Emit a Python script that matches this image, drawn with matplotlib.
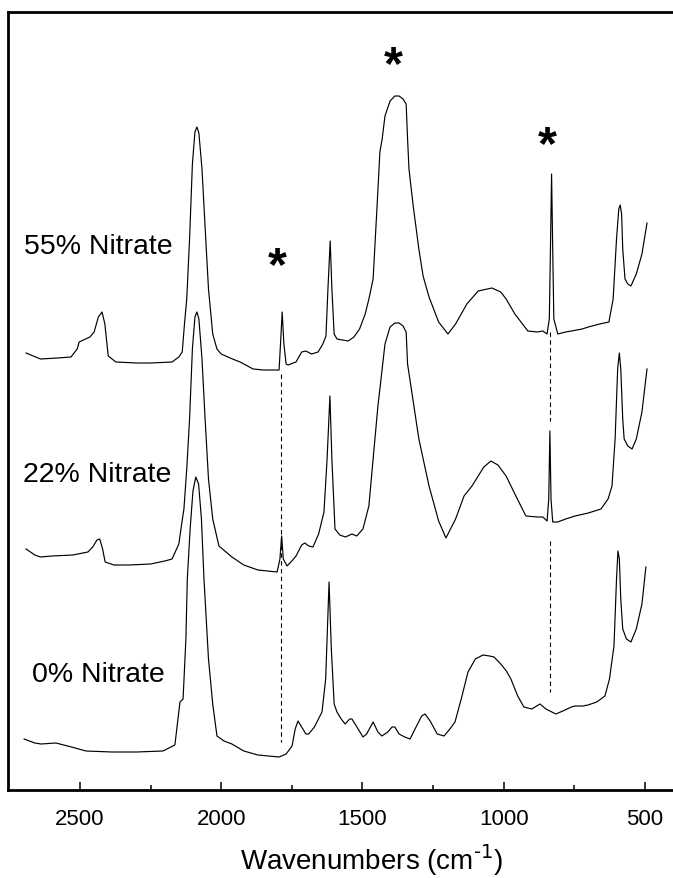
import numpy as np
import matplotlib.pyplot as plt

plt.rcParams['font.family'] = ['Liberation Sans', 'DejaVu Sans']

# spectra: wavenumber (cm-1) and stacked trace level
# (arbitrary units, larger = lower on the page, y axis is inverted)
wn_55 = [2691, 2640, 2580, 2532, 2510, 2503, 2480, 2465, 2450, 2435, 2422, 2412, 2400, 2373, 2300,
         2250, 2174, 2150, 2138, 2130, 2122, 2112, 2102, 2093, 2086, 2079, 2068, 2057, 2045, 2030,
         2015, 2000, 1960, 1933, 1887, 1850, 1795, 1790, 1784, 1778, 1770, 1763, 1745, 1735, 1715,
         1700, 1680, 1657, 1640, 1629, 1622, 1614, 1608, 1600, 1590, 1551, 1540, 1530, 1510, 1490,
         1477, 1462, 1448, 1438, 1430, 1420, 1402, 1385, 1370, 1356, 1345, 1340, 1335, 1320, 1300,
         1285, 1264, 1230, 1197, 1170, 1130, 1090, 1041, 1010, 991, 960, 914, 880, 861, 846, 838,
         834, 830, 826, 822, 808, 780, 760, 722, 700, 660, 627, 612, 600, 592, 587,
         582, 578, 570, 560, 549, 530, 510, 492]
lv_55 = [354, 360, 359, 358, 350, 343, 340, 338, 333, 318, 313, 325, 357, 363, 364,
         364, 363, 358, 353, 325, 300, 240, 165, 133, 128, 134, 170, 228, 290, 335,
         350, 355, 360, 363, 370, 371, 371, 345, 313, 345, 365, 366, 364, 363, 353,
         352, 355, 353, 345, 337, 290, 242, 290, 335, 340, 342, 340, 338, 330, 315,
         300, 280, 207, 153, 140, 117, 102, 97, 97, 100, 105, 140, 170, 207, 250,
         277, 298, 323, 335, 325, 305, 292, 289, 293, 300, 315, 332, 333, 332, 335, 320,
         250, 175, 250, 320, 335, 333, 332, 330, 328, 325, 323, 300, 240, 210, 206,
         215, 250, 280, 285, 287, 275, 255, 224]

wn_22 = [2691, 2660, 2640, 2600, 2525, 2490, 2472, 2455, 2440, 2430, 2420, 2411, 2380, 2327, 2250,
         2200, 2174, 2150, 2140, 2132, 2122, 2112, 2102, 2093, 2086, 2079, 2068, 2057, 2045, 2030,
         2008, 1962, 1920, 1870, 1802, 1792, 1786, 1780, 1767, 1750, 1735, 1715, 1704, 1690, 1675,
         1655, 1636, 1625, 1615, 1608, 1597, 1580, 1560, 1537, 1520, 1498, 1477, 1462, 1445, 1438,
         1430, 1420, 1402, 1385, 1370, 1356, 1345, 1340, 1325, 1300, 1264, 1230, 1204, 1170, 1140,
         1112, 1070, 1045, 1020, 991, 960, 921, 880, 861, 846, 840, 836, 832, 826, 808,
         780, 747, 700, 655, 630, 616, 605, 596, 590, 585, 578, 573, 560, 545, 530,
         510, 492]
lv_22 = [550, 556, 558, 557, 556, 554, 553, 548, 541, 540, 550, 563, 566, 566, 565,
         562, 560, 545, 525, 510, 470, 420, 350, 318, 313, 320, 360, 420, 480, 520,
         547, 558, 566, 571, 573, 560, 537, 560, 567, 562, 557, 546, 544, 547, 548,
         535, 513, 460, 397, 460, 530, 536, 538, 535, 537, 530, 507, 460, 407, 390,
         370, 345, 328, 324, 324, 327, 333, 365, 393, 440, 487, 522, 539, 520, 497,
         487, 468, 462, 466, 477, 495, 517, 518, 518, 522, 500, 432, 500, 523, 523,
         520, 517, 514, 510, 500, 487, 440, 370, 354, 370, 420, 440, 447, 450, 440,
         413, 370]

wn_0 = [2698, 2660, 2638, 2585, 2530, 2479, 2387, 2300, 2206, 2164, 2146, 2135, 2125, 2120, 2110,
        2100, 2090, 2080, 2070, 2061, 2045, 2030, 2015, 1990, 1962, 1920, 1870, 1795, 1770, 1749,
        1738, 1728, 1715, 1700, 1690, 1670, 1643, 1630, 1618, 1610, 1600, 1590, 1575, 1561, 1545,
        1537, 1515, 1498, 1485, 1462, 1445, 1431, 1410, 1395, 1385, 1370, 1350, 1331, 1310, 1290,
        1278, 1260, 1235, 1211, 1190, 1172, 1150, 1126, 1100, 1073, 1050, 1034, 1010, 990, 974,
        950, 928, 900, 871, 850, 815, 790, 760, 747, 720, 701, 670, 641, 625, 609,
        600, 595, 590, 585, 578, 565, 549, 530, 510, 496]
lv_0 = [740, 744, 745, 744, 748, 752, 753, 753, 752, 746, 703, 700, 640, 580, 530,
        492, 478, 485, 520, 580, 660, 705, 737, 742, 745, 752, 756, 758, 755, 747,
        730, 722, 728, 735, 735, 728, 713, 680, 583, 650, 705, 713, 720, 725, 720,
        720, 730, 738, 735, 723, 733, 737, 733, 728, 728, 735, 738, 740, 728, 717,
        715, 722, 735, 737, 730, 723, 700, 673, 660, 656, 657, 658, 665, 672, 680,
        697, 708, 710, 705, 710, 715, 712, 708, 707, 707, 706, 703, 697, 680, 647,
        580, 552, 560, 600, 630, 640, 643, 630, 605, 568]

labels = ['55% Nitrate', '22% Nitrate', '0% Nitrate']
label_wn = [2698, 2702, 2670]
label_lv = [247, 475, 675]

# nitrate bands marked with asterisks and dashed guides
star_wn = [1392, 846, 1802]
star_lv = [67, 147, 268]
guide_wn = [1787, 836, 836]
guide_top = [375, 333, 542]
guide_bot = [743, 422, 693]

xticks = [2500, 2000, 1500, 1000, 500]
xminor = [2250, 1750, 1250, 750]

fig = plt.figure(figsize=(6.73, 8.79), dpi=100)
ax = fig.add_axes([8 / 673, 1 - 790.7 / 879, 665 / 673, 777.4 / 879])

for wn, lv in [(wn_55, lv_55), (wn_22, lv_22), (wn_0, lv_0)]:
    ax.plot(wn, lv, color='black', lw=0.85)

ax.vlines(guide_wn, guide_top, guide_bot, colors='black', linestyles=(0, (4, 3)), lw=0.8)

for w, l, s in zip(label_wn, label_lv, labels):
    ax.text(w, l, s, fontsize=20.5, ha='left', va='center')

for w, l in zip(star_wn, star_lv):
    ax.text(w, l, '*', fontsize=35, fontweight='bold', ha='center', va='center')

ax.set_xlim(2755, 400)
ax.set_ylim(790.7, 13.3)

ax.set_xticks(xticks)
ax.set_xticks(xminor, minor=True)
ax.set_yticks([])
ax.tick_params(axis='x', which='major', direction='in', length=6, width=1.1, labelsize=16, pad=13)
ax.tick_params(axis='x', which='minor', direction='in', length=3.5, width=1.1)
for side in ['left', 'bottom', 'top']:
    ax.spines[side].set_linewidth(2)
ax.spines['right'].set_visible(False)

ax.set_xlabel(r'Wavenumbers (cm$^{\text{-}1}$)', fontsize=20)
ax.xaxis.label.set_va('center')
ax.xaxis.set_label_coords(0.546, -0.089)

fig.savefig('out.png', dpi=100)
